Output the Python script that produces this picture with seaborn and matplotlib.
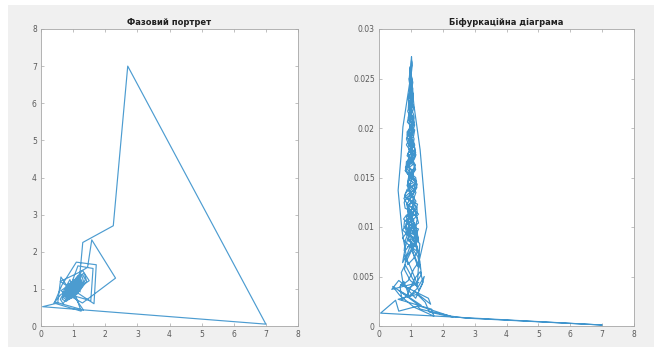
import matplotlib
matplotlib.use("Agg")
import matplotlib.pyplot as plt
import seaborn as sns
import pandas as pd

# ---------------- data ----------------
transient_x = [1.20, 1.30, 2.25, 2.70, 7.00, 0.05, 0.52, 0.62, 1.32, 0.43,
               0.65, 1.10, 1.72, 1.65, 0.60, 1.20, 1.45, 1.58, 2.32, 1.29,
               0.62, 0.95, 1.15, 1.62, 1.55, 0.68, 0.90, 1.25, 0.40, 0.62, 0.85]
transient_z = [0.0020, 0.0017, 0.0010, 0.0008, 0.0001, 0.0013, 0.0026, 0.0015, 0.0021, 0.0040,
               0.0031, 0.0019, 0.0010, 0.0017, 0.0027, 0.0032, 0.0024, 0.0014, 0.0009, 0.0020,
               0.0036, 0.0030, 0.0034, 0.0022, 0.0028, 0.0042, 0.0038, 0.0044, 0.0037, 0.0046, 0.0040]

drift1_x = [0.95, 1.15, 1.35, 1.42, 1.20, 0.95, 0.78, 0.66, 0.72, 0.90,
            1.12, 1.30, 1.38, 1.25, 1.02, 0.82, 0.70, 0.76, 0.92, 1.10,
            1.28, 1.33, 1.18, 0.98, 0.80]
drift1_z = [0.0035, 0.0028, 0.0042, 0.0050, 0.0038, 0.0030, 0.0045, 0.0040, 0.0026, 0.0032,
            0.0048, 0.0055, 0.0044, 0.0036, 0.0050, 0.0062, 0.0054, 0.0042, 0.0046, 0.0058,
            0.0066, 0.0052, 0.0044, 0.0060, 0.0072]

drift2_x = [0.85, 1.05, 1.22, 1.30, 1.15, 0.96, 0.80, 0.74, 0.88, 1.06,
            1.20, 1.26, 1.12, 0.94, 0.82, 0.79, 0.92, 1.08, 1.18, 1.24,
            1.10, 0.95, 0.84, 0.86, 0.98, 1.12, 1.20, 1.14, 1.00, 0.88]
drift2_z = [0.0065, 0.0078, 0.0070, 0.0058, 0.0068, 0.0082, 0.0075, 0.0064, 0.0072, 0.0088,
            0.0080, 0.0070, 0.0084, 0.0096, 0.0086, 0.0076, 0.0090, 0.0102, 0.0094, 0.0085,
            0.0098, 0.0110, 0.0100, 0.0092, 0.0106, 0.0118, 0.0108, 0.0100, 0.0114, 0.0124]

passA_x = [1.00, 1.24, 1.22, 0.99, 0.78, 0.80, 1.01, 1.20, 1.19, 0.99,
           0.81, 0.83, 1.00, 1.17, 1.15, 0.99, 0.85, 0.86, 1.01, 1.13,
           1.12, 0.99, 0.88, 0.89, 1.00, 1.10, 1.09, 1.00, 0.92, 0.93,
           1.00, 1.06, 1.06, 1.00, 0.95, 0.96, 1.00]
passA_z = [0.0080, 0.0086, 0.0090, 0.0094, 0.0100, 0.0106, 0.0110, 0.0114, 0.0120, 0.0126,
           0.0130, 0.0134, 0.0140, 0.0146, 0.0150, 0.0154, 0.0160, 0.0166, 0.0170, 0.0174,
           0.0180, 0.0186, 0.0190, 0.0194, 0.0200, 0.0206, 0.0210, 0.0214, 0.0220, 0.0226,
           0.0230, 0.0234, 0.0240, 0.0246, 0.0250, 0.0254, 0.0260]

passB_x = [1.00, 1.04, 1.06, 1.03, 0.97, 0.92, 0.93, 1.00, 1.08, 1.10,
           1.05, 0.95, 0.88, 0.90, 1.00, 1.11, 1.15, 1.07, 0.93, 0.83,
           0.86, 1.00, 1.15, 1.19, 1.09, 0.91, 0.79, 0.82, 1.00, 1.19,
           1.24, 1.11, 0.89, 0.74, 0.79, 1.00, 1.22]
passB_z = [0.0255, 0.0249, 0.0246, 0.0240, 0.0236, 0.0229, 0.0226, 0.0220, 0.0214, 0.0211,
           0.0205, 0.0199, 0.0196, 0.0190, 0.0184, 0.0181, 0.0175, 0.0169, 0.0166, 0.0160,
           0.0156, 0.0149, 0.0146, 0.0140, 0.0134, 0.0131, 0.0125, 0.0119, 0.0116, 0.0110,
           0.0104, 0.0101, 0.0095, 0.0089, 0.0086, 0.0080, 0.0075]

up1_x = [0.92, 1.08, 1.16, 1.04, 0.90, 0.94, 1.10, 1.14, 1.00, 0.88,
         0.96, 1.12, 1.06, 0.92, 0.95, 1.09, 1.05, 0.93, 0.97, 1.07,
         1.03, 0.95, 1.00, 1.04]
up1_z = [0.0122, 0.0128, 0.0135, 0.0140, 0.0146, 0.0152, 0.0157, 0.0163, 0.0168, 0.0172,
         0.0178, 0.0183, 0.0188, 0.0193, 0.0198, 0.0203, 0.0208, 0.0213, 0.0218, 0.0222,
         0.0227, 0.0232, 0.0236, 0.0240]

right_strand_x = [1.10, 1.29, 1.50, 1.22, 1.05]
right_strand_z = [0.0222, 0.0178, 0.0100, 0.0060, 0.0075]

passC_x = [1.16, 1.24, 1.00, 0.77, 0.86, 1.14, 1.21, 1.00, 0.80, 0.88,
           1.12, 1.18, 1.00, 0.83, 0.90, 1.10, 1.15, 1.00, 0.86, 0.92,
           1.08, 1.12, 1.00, 0.89, 0.94, 1.06, 1.09, 1.00, 0.93, 0.96,
           1.04, 1.05, 1.00, 0.96, 0.98]
passC_z = [0.0092, 0.0098, 0.0101, 0.0108, 0.0112, 0.0116, 0.0123, 0.0127, 0.0131, 0.0138,
           0.0142, 0.0146, 0.0153, 0.0157, 0.0161, 0.0168, 0.0172, 0.0176, 0.0183, 0.0187,
           0.0191, 0.0198, 0.0202, 0.0206, 0.0213, 0.0217, 0.0221, 0.0228, 0.0232, 0.0236,
           0.0243, 0.0247, 0.0251, 0.0258, 0.0262]

down1_x = [0.97, 1.06, 0.94, 1.02, 1.08, 0.93, 0.98, 1.12, 0.90, 1.05,
           1.15, 0.98, 0.88, 1.00, 1.16, 1.04, 0.86, 0.92, 1.08, 1.20]
down1_z = [0.0236, 0.0228, 0.0221, 0.0214, 0.0206, 0.0198, 0.0190, 0.0182, 0.0174, 0.0166,
           0.0158, 0.0150, 0.0142, 0.0134, 0.0126, 0.0118, 0.0110, 0.0102, 0.0094, 0.0086]

up2_x = [1.10, 0.92, 0.98, 1.10, 0.96, 1.04, 1.10, 0.94, 0.99, 1.08,
         0.94, 1.03, 1.07, 0.95, 1.00, 1.05, 0.96, 1.02, 1.04, 0.98,
         1.01, 1.03, 0.99, 1.00, 1.02]
up2_z = [0.0080, 0.0088, 0.0096, 0.0104, 0.0112, 0.0120, 0.0129, 0.0137, 0.0145, 0.0153,
         0.0161, 0.0169, 0.0177, 0.0185, 0.0193, 0.0201, 0.0209, 0.0217, 0.0225, 0.0233,
         0.0241, 0.0249, 0.0257, 0.0265, 0.0272]

left_strand_x = [1.03, 1.01, 0.96, 0.75, 0.69, 0.60, 0.72, 0.90]
left_strand_z = [0.0266, 0.0258, 0.0245, 0.0201, 0.0171, 0.0137, 0.0097, 0.0062]

up3_x = [1.08, 1.22, 1.12, 0.94, 0.84, 1.00, 1.14, 1.08, 0.94, 0.90,
         1.02, 1.12, 1.04, 0.93, 0.97, 1.08, 1.04, 0.94, 0.99, 1.06,
         1.02, 0.96, 1.01]
up3_z = [0.0068, 0.0076, 0.0085, 0.0094, 0.0103, 0.0111, 0.0120, 0.0128, 0.0137, 0.0145,
         0.0154, 0.0162, 0.0171, 0.0179, 0.0188, 0.0196, 0.0205, 0.0213, 0.0222, 0.0230,
         0.0238, 0.0246, 0.0252]

down2_x = [0.98, 1.06, 1.00, 0.92, 0.98, 1.10, 1.04, 0.90, 0.96, 1.14,
           1.08, 0.88, 0.94, 1.16, 1.22, 1.04, 0.84, 0.80, 0.98, 1.20]
down2_z = [0.0244, 0.0233, 0.0222, 0.0211, 0.0200, 0.0189, 0.0178, 0.0167, 0.0156, 0.0145,
           0.0134, 0.0123, 0.0112, 0.0101, 0.0090, 0.0079, 0.0068, 0.0057, 0.0046, 0.0040]

passD_x = [1.28, 1.14, 0.87, 0.74, 0.88, 1.12, 1.24, 1.12, 0.89, 0.78,
           0.90, 1.10, 1.20, 1.10, 0.91, 0.82, 0.92, 1.08, 1.16, 1.08,
           0.93, 0.86, 0.94, 1.06, 1.12, 1.06, 0.95, 0.90, 0.96, 1.04,
           1.08, 1.04, 0.97, 0.94, 0.98, 1.02, 1.04, 1.02]
passD_z = [0.0083, 0.0089, 0.0093, 0.0097, 0.0103, 0.0109, 0.0113, 0.0117, 0.0123, 0.0129,
           0.0133, 0.0137, 0.0143, 0.0149, 0.0153, 0.0157, 0.0163, 0.0169, 0.0173, 0.0177,
           0.0183, 0.0189, 0.0193, 0.0197, 0.0203, 0.0209, 0.0213, 0.0217, 0.0223, 0.0229,
           0.0233, 0.0237, 0.0243, 0.0249, 0.0253, 0.0257, 0.0263, 0.0268]

core1_x = [1.01, 0.99, 1.02, 0.97, 1.03, 0.98, 1.03, 0.97, 1.04, 0.96,
           1.03, 0.97, 1.05, 0.95, 1.04, 0.96, 1.05, 0.95, 1.04, 0.96,
           1.06, 0.94, 1.05, 0.95, 1.06, 0.93, 1.05, 0.95, 1.06, 0.94,
           1.07, 0.93, 1.05, 0.95, 1.08, 0.92, 1.06, 0.94, 1.07, 0.93]
core1_z = [0.0247, 0.0244, 0.0241, 0.0238, 0.0235, 0.0232, 0.0229, 0.0226, 0.0223, 0.0220,
           0.0217, 0.0214, 0.0211, 0.0208, 0.0205, 0.0202, 0.0199, 0.0196, 0.0193, 0.0190,
           0.0187, 0.0184, 0.0181, 0.0178, 0.0175, 0.0172, 0.0169, 0.0166, 0.0163, 0.0160,
           0.0157, 0.0154, 0.0151, 0.0148, 0.0145, 0.0142, 0.0139, 0.0136, 0.0133, 0.0130]

core2_x = [1.06, 0.94, 1.08, 0.92, 1.07, 0.93, 1.08, 0.91, 1.09, 0.92,
           1.10, 0.90, 1.08, 0.91, 1.11, 0.89, 1.09, 0.92, 1.10, 0.90]
core2_z = [0.0137, 0.0134, 0.0131, 0.0128, 0.0125, 0.0122, 0.0119, 0.0116, 0.0113, 0.0110,
           0.0107, 0.0104, 0.0101, 0.0098, 0.0095, 0.0092, 0.0089, 0.0086, 0.0083, 0.0080]

x_vals = (transient_x + drift1_x + drift2_x + passA_x + passB_x + up1_x
          + right_strand_x + passC_x + down1_x + up2_x + left_strand_x
          + up3_x + down2_x + passD_x + core1_x + core2_x)
z_vals = (transient_z + drift1_z + drift2_z + passA_z + passB_z + up1_z
          + right_strand_z + passC_z + down1_z + up2_z + left_strand_z
          + up3_z + down2_z + passD_z + core1_z + core2_z)

left_title = "Фазовий портрет"
right_title = "Біфуркаційна діаграма"
x_ticks = [0, 1, 2, 3, 4, 5, 6, 7, 8]
left_y_ticks = [0, 1, 2, 3, 4, 5, 6, 7, 8]
right_y_ticks = [0, 0.005, 0.01, 0.015, 0.02, 0.025, 0.03]
right_y_labels = ["0", "0.005", "0.01", "0.015", "0.02", "0.025", "0.03"]

# ---------------- figure ----------------
sns.set_theme(style="white")
plt.rcParams["font.family"] = ["DejaVu Sans"]

fig = plt.figure(figsize=(6.54, 3.49), dpi=100)
fig.patch.set_facecolor("white")
W, H = 654, 349
bg = fig.add_axes([8 / W, 2 / H, 1 - 8 / W, 342 / H], zorder=-10)
bg.set_facecolor("#f0f0f0")
bg.set_xticks([])
bg.set_yticks([])
for s in bg.spines.values():
    s.set_visible(False)

ax1 = fig.add_axes([41 / W, (H - 326) / H, 257 / W, 297 / H], zorder=1)
ax2 = fig.add_axes([379 / W, (H - 326) / H, 255 / W, 297 / H], zorder=1)

line_color = "#0072BD"
df_left = pd.DataFrame({"x": x_vals[:-1], "y": x_vals[1:]})
df_right = pd.DataFrame({"x": x_vals, "z": z_vals})

sns.lineplot(data=df_left, x="x", y="y", sort=False, estimator=None, ax=ax1,
             color=line_color, lw=0.85, alpha=0.7)
sns.lineplot(data=df_right, x="x", y="z", sort=False, estimator=None, ax=ax2,
             color=line_color, lw=0.85, alpha=0.75)

for ax, title, yt in [(ax1, left_title, left_y_ticks), (ax2, right_title, right_y_ticks)]:
    ax.set_facecolor("white")
    ax.set_xlim(0, 8)
    ax.set_xticks(x_ticks)
    ax.set_xticklabels([str(t) for t in x_ticks])
    ax.set_yticks(yt)
    ax.set_xlabel("")
    ax.set_ylabel("")
    ax.set_title(title, fontsize=6, fontweight="bold", color="#202020", pad=3)
    for s in ax.spines.values():
        s.set_visible(True)
        s.set_color("#a6a6a6")
        s.set_linewidth(0.6)
    ax.tick_params(direction="in", length=2.5, width=0.5, colors="#a6a6a6",
                   labelcolor="#5a5a5a", labelsize=5.5, top=True, right=True,
                   bottom=True, left=True, pad=3)

ax1.set_ylim(0, 8)
ax1.set_yticklabels([str(t) for t in left_y_ticks])
ax2.set_ylim(0, 0.03)
ax2.set_yticklabels(right_y_labels)

fig.savefig("out.png", dpi=100)
